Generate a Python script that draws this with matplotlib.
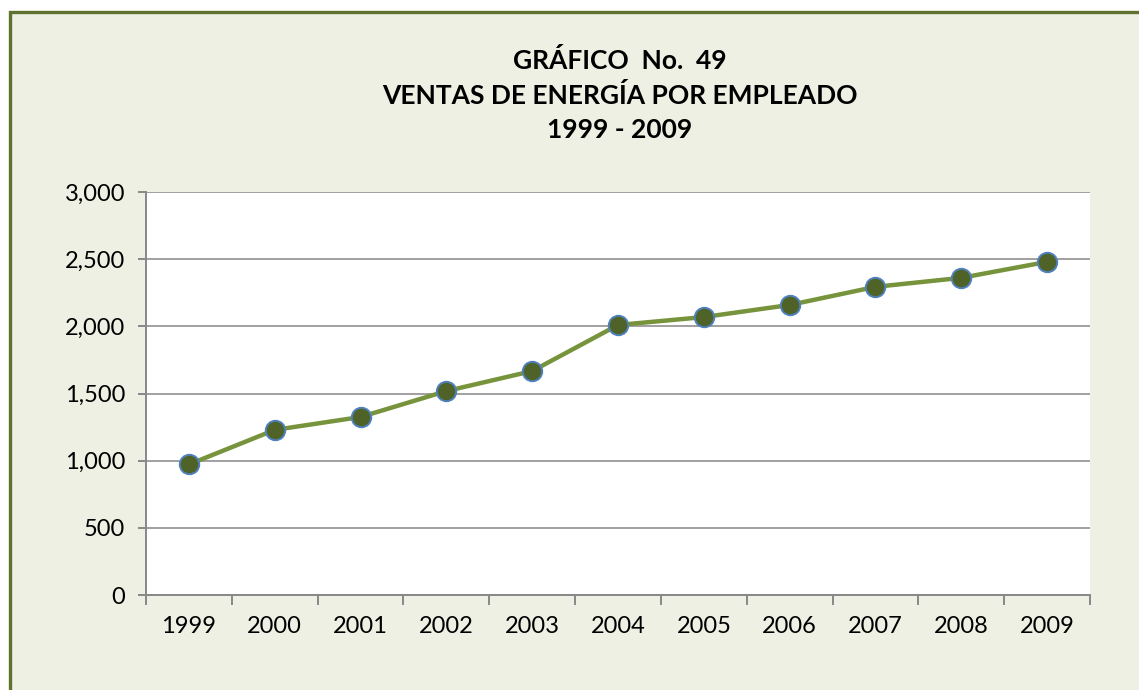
import numpy as np
import matplotlib.pyplot as plt
from matplotlib.patches import Rectangle
from matplotlib.ticker import FuncFormatter

years = ["1999", "2000", "2001", "2002", "2003", "2004",
         "2005", "2006", "2007", "2008", "2009"]
ventas = [972, 1229, 1325, 1518, 1667, 2010, 2069, 2159, 2294, 2361, 2480]

plt.rcParams["font.family"] = ["Lato", "DejaVu Sans"]

W, H = 1139, 690
fig = plt.figure(figsize=(W / 100, H / 100), dpi=100)
fig.patch.set_facecolor("white")

# light green panel with dark olive frame (runs off right/bottom edges)
fig.patches.append(Rectangle((9.5 / W, -0.05), 1.1, 1 - 11.5 / H + 0.05,
                             transform=fig.transFigure, facecolor="#EDF0E2",
                             edgecolor="#5E7330", linewidth=2.4, zorder=-5))

ax = fig.add_axes([146 / W, 1 - 595 / H, (1090 - 146) / W, (595 - 192) / H])
ax.set_facecolor("white")

x = np.arange(len(years))
ax.plot(x, ventas, color="#77933C", linewidth=3.2, marker="o",
        markersize=14, markerfacecolor="#4F6228",
        markeredgecolor="#4F81BD", markeredgewidth=1.4, zorder=3)

ax.set_xlim(-0.5, len(years) - 0.5)
ax.set_ylim(0, 3000)
ax.set_yticks(np.arange(0, 3001, 500))
ax.yaxis.set_major_formatter(FuncFormatter(lambda v, p: f"{int(v):,}"))
ax.grid(axis="y", color="#A0A0A0", linewidth=1.4)
ax.set_axisbelow(True)

ax.set_xticks(x)
ax.set_xticklabels(years)
ax.set_xticks(np.arange(-0.5, len(years)), minor=True)
ax.tick_params(axis="x", which="major", length=0, pad=15, labelsize=17)
ax.tick_params(axis="x", which="minor", length=7, width=1.4, color="#888888")
ax.tick_params(axis="y", length=6, width=1.4, color="#888888", pad=9, labelsize=17)

for s in ["top", "right"]:
    ax.spines[s].set_visible(False)
for s in ["left", "bottom"]:
    ax.spines[s].set_color("#888888")
    ax.spines[s].set_linewidth(1.4)

title = "GRÁFICO  No.  49\nVENTAS DE ENERGÍA POR EMPLEADO\n1999 - 2009"
fig.text(620 / W, 1 - 95 / H, title, ha="center", va="center",
         fontsize=19, fontweight="bold", linespacing=1.48)

fig.savefig("out.png", dpi=100)
